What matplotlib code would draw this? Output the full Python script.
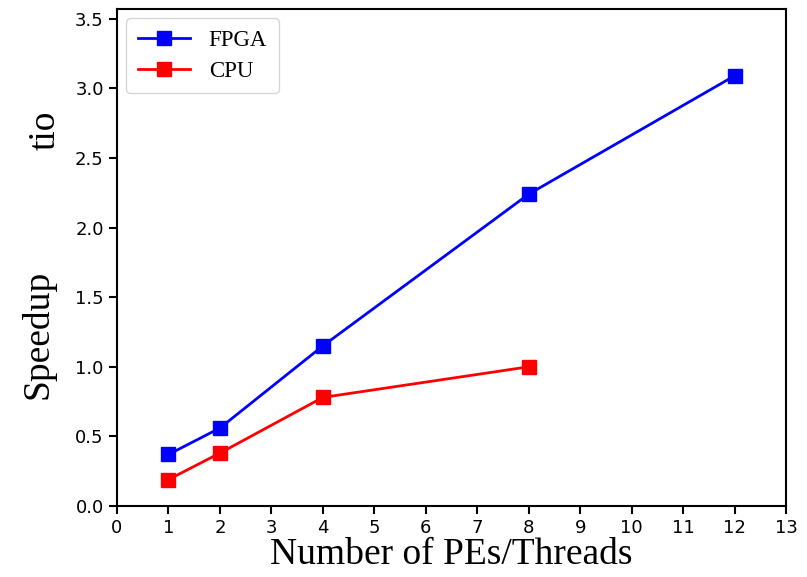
import matplotlib
matplotlib.use("Agg")
import matplotlib.pyplot as plt

fpga_x = [1, 2, 4, 8, 12]
fpga_y = [0.37, 0.56, 1.15, 2.24, 3.09]
cpu_x = [1, 2, 4, 8]
cpu_y = [0.19, 0.38, 0.78, 1.00]
xticks = list(range(0, 14))
yticks = [0.0, 0.5, 1.0, 1.5, 2.0, 2.5, 3.0, 3.5]

fig = plt.figure(figsize=(8.07, 5.77), dpi=100)
ax = fig.add_axes([117/807, 1 - 506/577, (786-117)/807, (506-9)/577])
ax.plot(fpga_x, fpga_y, color='blue', marker='s', markersize=10, linewidth=2, label='FPGA')
ax.plot(cpu_x, cpu_y, color='red', marker='s', markersize=10, linewidth=2, label='CPU')
ax.set_xlim(0, 13)
ax.set_ylim(0, 3.57)
ax.set_xticks(xticks)
ax.set_yticks(yticks)
ax.tick_params(labelsize=13, width=1.5, length=6)
for s in ax.spines.values():
    s.set_linewidth(1.5)
ax.set_xlabel('Number of PEs/Threads', fontfamily='Liberation Serif', fontsize=27, labelpad=0)
fig.text(38/807, 1 - 334/577, 'Speedup', rotation=90, fontfamily='Liberation Serif', fontsize=27, ha='center', va='center')
fig.text(45/807, 1 - 130/577, 'tio', rotation=90, fontfamily='Liberation Serif', fontsize=27, ha='center', va='center')
leg = ax.legend(loc='upper left', prop={'family': 'Liberation Serif', 'size': 16.5}, handlelength=2.3,
                borderpad=0.5, labelspacing=0.45, borderaxespad=0.4)
fig.savefig('out.png', dpi=100)
